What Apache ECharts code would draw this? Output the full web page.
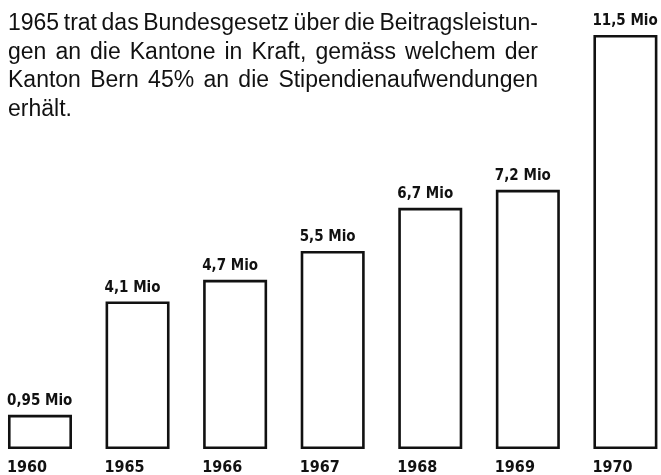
<!DOCTYPE html>
<html>
<head>
<meta charset="utf-8">
<script src="https://cdn.jsdelivr.net/npm/echarts@6/dist/echarts.min.js"></script>
<style>
html,body{margin:0;padding:0;background:#fff;}
#c{width:661px;height:475px;}
</style>
</head>
<body>
<div id="c"></div>
<script>
const years = ['1960', '1965', '1966', '1967', '1968', '1969', '1970'];
const values = [0.95, 4.1, 4.7, 5.5, 6.7, 7.2, 11.5];
const valueLabels = ['0,95 Mio', '4,1 Mio', '4,7 Mio', '5,5 Mio', '6,7 Mio', '7,2 Mio', '11,5 Mio'];
const titleLines = [
  '1965 trat das Bundesgesetz über die Beitragsleistun-',
  'gen an die Kantone in Kraft, gemäss welchem der',
  'Kanton Bern 45% an die Stipendienaufwendungen',
  'erhält.'
];
// right edge of each justified line (last line is left ragged)
const lineEnds = [538, 538, 538, null];

const LABEL_FONT = '"DejaVu Sans Condensed", "Liberation Sans", sans-serif';
const TITLE_FONT_FAMILY = '"Liberation Sans", Arial, sans-serif';
const TITLE_SIZE = 23;
const SX = 1.0;

const chart = echarts.init(document.getElementById('c'), null, {renderer: 'canvas'});

const ctx = document.createElement('canvas').getContext('2d');
ctx.font = TITLE_SIZE + 'px ' + TITLE_FONT_FAMILY;
const spaceW = ctx.measureText(' ').width * SX;

const graphics = [];
titleLines.forEach((line, i) => {
  const words = line.split(' ');
  const widths = words.map(w => ctx.measureText(w).width * SX);
  const total = widths.reduce((a, b) => a + b, 0);
  const x0 = 8;
  let gap = spaceW;
  if (lineEnds[i] !== null && words.length > 1) {
    gap = Math.max(spaceW * 0.6, (lineEnds[i] - x0 - total) / (words.length - 1));
  }
  let x = x0;
  const y = 12.5 + i * 28.5;
  words.forEach((w, k) => {
    graphics.push({
      type: 'text',
      x: x,
      y: y,
      scaleX: SX,
      style: {
        text: w,
        font: TITLE_SIZE + 'px ' + TITLE_FONT_FAMILY,
        fill: '#111',
        verticalAlign: 'top',
        align: 'left'
      }
    });
    x += widths[k] + gap;
  });
});

chart.setOption({
  animation: false,
  backgroundColor: '#fff',
  graphic: graphics,
  grid: {left: -8.8, width: 683, top: 17, bottom: 26, containLabel: false, outerBoundsMode: 'none'},
  xAxis: {
    type: 'category',
    data: years,
    axisLine: {show: false},
    axisTick: {show: false},
    axisLabel: {
      align: 'left',
      padding: [0, 0, 0, -33],
      margin: 11,
      fontFamily: LABEL_FONT,
      fontWeight: 'bold',
      fontSize: 16,
      color: '#111'
    }
  },
  yAxis: {
    type: 'value',
    min: 0,
    max: 12,
    show: false,
    splitLine: {show: false}
  },
  series: [{
    type: 'bar',
    data: values,
    barWidth: 64,
    itemStyle: {color: '#fff', borderColor: '#111', borderWidth: 2.6},
    label: {
      show: true,
      position: [-1, -6],
      align: 'left',
      verticalAlign: 'bottom',
      fontFamily: LABEL_FONT,
      fontWeight: 'bold',
      fontSize: 15,
      color: '#111',
      formatter: p => valueLabels[p.dataIndex]
    }
  }]
});
</script>
</body>
</html>
